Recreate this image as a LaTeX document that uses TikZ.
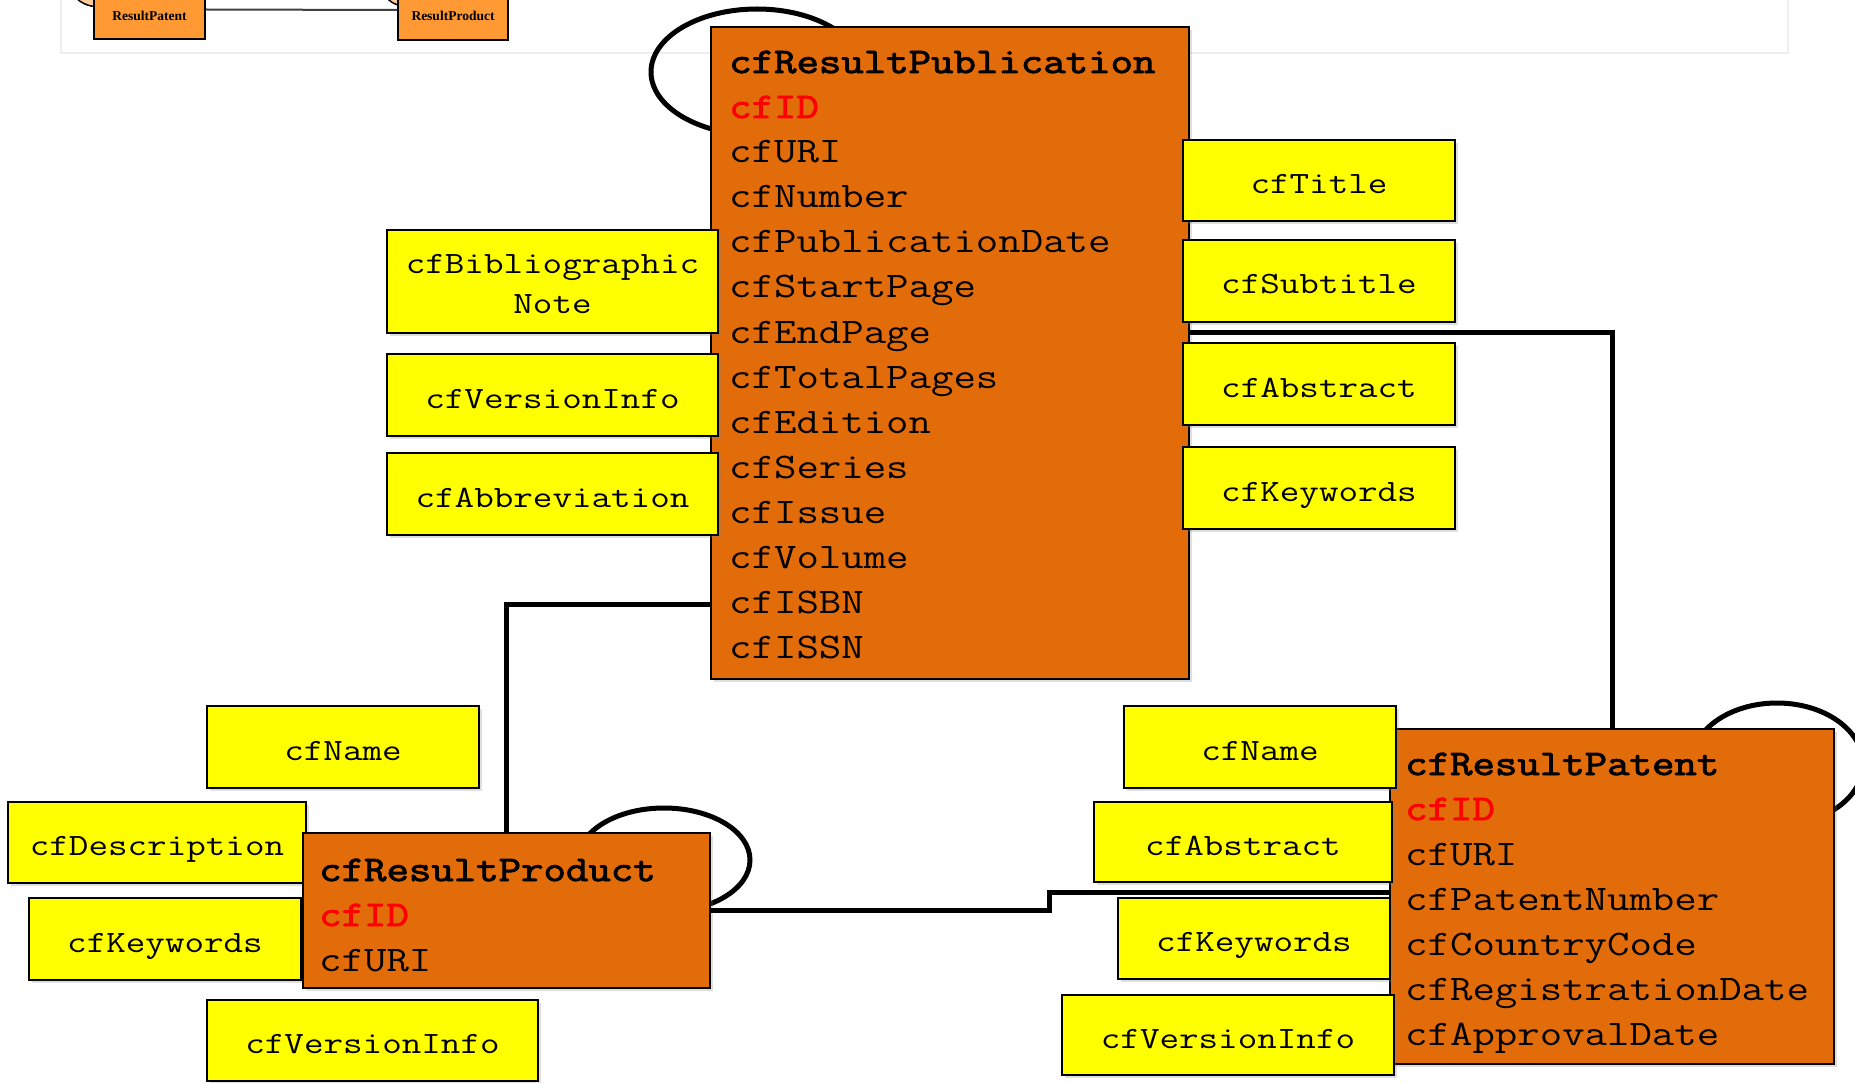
\documentclass[tikz,border=0pt]{standalone}
\usepackage{fontspec}
\newfontfamily\entmono[FakeStretch=1.21]{Latin Modern Mono}
\newfontfamily\entmonobold[FakeStretch=1.21,FakeBold=2.5]{Latin Modern Mono}
\newfontfamily\attrmono[FakeStretch=1.225]{Latin Modern Mono}
\newfontfamily\seriffam{Liberation Serif}
\usetikzlibrary{shadows}
\definecolor{entorange}{HTML}{E36C0A}
\definecolor{attryellow}{HTML}{FFFF00}
\definecolor{smallorange}{HTML}{FF9933}
\definecolor{peach}{HTML}{FFCC99}
\definecolor{framegray}{HTML}{EEEEEE}
\definecolor{keyred}{HTML}{FF0000}
\begin{document}
\begin{tikzpicture}[x=1pt,y=-1pt,
  entity/.style={draw=black, line width=2.5pt, fill=entorange, inner sep=0pt,
    drop shadow={shadow xshift=3pt,shadow yshift=-3pt,opacity=0.25}},
  attrbox/.style={draw=black, line width=2pt, fill=attryellow, inner sep=0pt,
    font=\attrmono\fontsize{31}{38}\selectfont, text height=26pt, text depth=0pt,
    drop shadow={shadow xshift=3pt,shadow yshift=-3pt,opacity=0.25}},
  attrtext/.style={inner sep=0pt, anchor=base, font=\attrmono\fontsize{31}{38}\selectfont},
  enttitle/.style={inner sep=0pt, anchor=base west, font=\entmonobold\fontsize{36}{45}\selectfont},
  entkey/.style={inner sep=0pt, anchor=base west, text=keyred, font=\entmonobold\fontsize{36}{45}\selectfont},
  entattr/.style={inner sep=0pt, anchor=base west, font=\entmono\fontsize{36}{45}\selectfont},
  loopline/.style={draw=black, line width=5pt},
  conn/.style={draw=black, line width=5pt},
  smallbox/.style={draw=black, line width=1.5pt, fill=smallorange, inner sep=0pt},
  smalllabel/.style={inner sep=0pt, font=\seriffam\bfseries\fontsize{13.5}{16}\selectfont}
]
\useasboundingbox (0,0) rectangle (1855,1083);

% ---- cropped strip of another diagram at the top
\draw[framegray, line width=2pt] (61,-30) rectangle (1788,53);
\draw[line width=1.5pt, fill=peach] (100,-12) ellipse [x radius=28pt, y radius=19pt];
\draw[line width=1.5pt, fill=peach] (405,-13) ellipse [x radius=22pt, y radius=19pt];
\node[smallbox, minimum width=111pt, minimum height=59pt] (spat) at (149.5,9.5) {};
\node[smallbox, minimum width=110pt, minimum height=60pt] (sprod) at (453,10) {};
\draw[line width=2pt, black!75] (spat.east) -- (sprod.west);
\node[smalllabel] (spatl) at (149.5,15.7) {ResultPatent};
\node[smalllabel] (sprodl) at (453,15.7) {ResultProduct};

% ---- self loops
\draw[loopline] (757,72) ellipse [x radius=106pt, y radius=63pt];
\draw[loopline] (1777,764) ellipse [x radius=86pt, y radius=61pt];
\draw[loopline] (664,860) ellipse [x radius=86pt, y radius=52pt];

% ---- cfResultPublication
\node[entity, minimum width=478pt, minimum height=652pt] (pub) at (950,353) {};
\node[enttitle] (pub-1) at (729,73) {cfResultPublication};
\node[entkey] (pub-2) at (729,118) {cfID};
\foreach \t [count=\i from 3] in {cfURI,cfNumber,cfPublicationDate,cfStartPage,cfEndPage,cfTotalPages,cfEdition,cfSeries,cfIssue,cfVolume,cfISBN,cfISSN}{
  \pgfmathsetmacro{\yy}{73+45*(\i-1)}
  \node[entattr] (pub-\i) at (729,\yy) {\t};
}

% ---- cfResultPatent
\node[entity, minimum width=444pt, minimum height=335pt] (pat) at (1612,896.5) {};
\node[enttitle] (pat-1) at (1405,775) {cfResultPatent};
\node[entkey] (pat-2) at (1405,820) {cfID};
\foreach \t [count=\i from 3] in {cfURI,cfPatentNumber,cfCountryCode,cfRegistrationDate,cfApprovalDate}{
  \pgfmathsetmacro{\yy}{775+45*(\i-1)}
  \node[entattr] (pat-\i) at (1405,\yy) {\t};
}

% ---- attributes of cfResultPublication
\node[attrbox, minimum width=331pt, minimum height=103pt] (pbib) at (552.5,281.5) {};
\node[attrtext] (pbib-1) at (552.5,274) {cfBibliographic};
\node[attrtext] (pbib-2) at (552.5,313) {Note};
\node[attrbox, minimum width=331pt, minimum height=82pt] (pver) at (552.5,395) {cfVersionInfo};
\node[attrbox, minimum width=331pt, minimum height=82pt] (pabb) at (552.5,494) {cfAbbreviation};
\node[attrbox, minimum width=272pt, minimum height=81pt] (ptit) at (1319,180.5) {cfTitle};
\node[attrbox, minimum width=272pt, minimum height=82pt] (psub) at (1319,281) {cfSubtitle};
\node[attrbox, minimum width=272pt, minimum height=82pt] (pabs) at (1319,384) {cfAbstract};
\node[attrbox, minimum width=272pt, minimum height=82pt] (pkw) at (1319,488) {cfKeywords};

% ---- attributes of cfResultPatent
\node[attrbox, minimum width=272pt, minimum height=82pt] (tname) at (1260,747) {cfName};
\node[attrbox, minimum width=298pt, minimum height=80pt] (tabs) at (1243,842) {cfAbstract};
\node[attrbox, minimum width=272pt, minimum height=81pt] (tkw) at (1254,938.5) {cfKeywords};
\node[attrbox, minimum width=332pt, minimum height=80pt] (tver) at (1228,1035) {cfVersionInfo};

% ---- attributes of cfResultProduct
\node[attrbox, minimum width=272pt, minimum height=82pt] (rname) at (343,747) {cfName};
\node[attrbox, minimum width=298pt, minimum height=81pt] (rdesc) at (157,842.5) {cfDescription};
\node[attrbox, minimum width=272pt, minimum height=82pt] (rkw) at (165,939) {cfKeywords};
\node[attrbox, minimum width=331pt, minimum height=81pt] (rver) at (372.5,1040.5) {cfVersionInfo};

% ---- cfResultProduct
\node[entity, minimum width=407pt, minimum height=155pt] (prod) at (506.5,910.5) {};
\node[enttitle] (prod-1) at (319,881) {cfResultProduct};
\node[entkey] (prod-2) at (319,926) {cfID};
\node[entattr] (prod-3) at (319,971) {cfURI};

% ---- connectors
\coordinate (k1) at (0,604);
\coordinate (k2) at (0,332);
\coordinate (bend) at (1049,892);
\draw[conn] (prod.north) |- (pub.west |- k1);
\draw[conn] (pub.east |- k2) -| (pat.north);
\draw[conn] (prod.east) -| (bend) -- (pat.west |- bend);
\end{tikzpicture}
\end{document}
